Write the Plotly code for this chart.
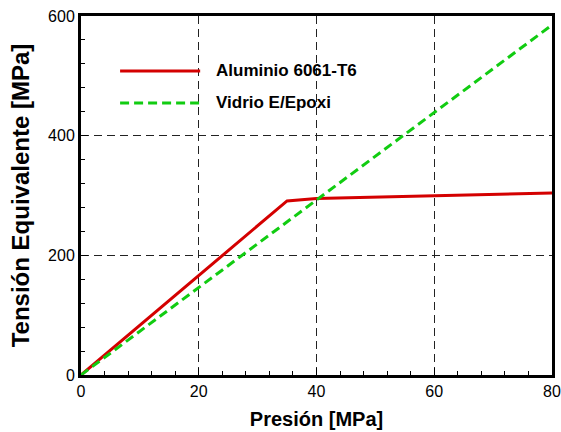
import plotly.graph_objects as go

# Data
presion_al = [0, 35, 40, 60, 80]
tension_al = [0, 291, 295, 300, 304]
presion_vid = [0, 80]
tension_vid = [0, 585]
x_ticks = [0, 20, 40, 60, 80]
y_ticks = [0, 200, 400, 600]
series_names = ["Aluminio 6061-T6", "Vidrio E/Epoxi"]

FONT = "Liberation Sans, Arial, sans-serif"
GREEN_DASH = "9px,5px"

fig = go.Figure()
fig.add_trace(go.Scatter(x=presion_al, y=tension_al, mode="lines", name=series_names[0],
                         line=dict(color="#d40000", width=3), showlegend=False))
fig.add_trace(go.Scatter(x=presion_vid, y=tension_vid, mode="lines", name=series_names[1],
                         line=dict(color="#11cc11", width=3, dash=GREEN_DASH), showlegend=False))

# manual legend
leg_y = [0.847, 0.758]
colors = ["#d40000", "#11cc11"]
dashes = ["solid", GREEN_DASH]
for i in range(2):
    fig.add_shape(type="line", xref="paper", yref="paper", x0=0.083, x1=0.253,
                  y0=leg_y[i], y1=leg_y[i], line=dict(color=colors[i], width=3, dash=dashes[i]))
    fig.add_annotation(xref="paper", yref="paper", x=0.283, y=leg_y[i], text="<b>%s</b>" % series_names[i],
                       showarrow=False, xanchor="left", yanchor="middle",
                       font=dict(family=FONT, size=17, color="black"))

axis_common = dict(showline=True, linecolor="black", linewidth=3, mirror=True,
                   ticks="inside", ticklen=7, tickcolor="black", tickwidth=1,
                   showgrid=True, gridcolor="#222222", gridwidth=1.3, griddash="8px,5px",
                   zeroline=False, automargin=False, layer="above traces",
                   tickfont=dict(family=FONT, size=16, color="black"))

fig.update_xaxes(range=[0, 80], tickvals=x_ticks, **axis_common,
                 minor=dict(dtick=4, ticks="inside", ticklen=4, tickcolor="black", showgrid=False),
                 title=dict(text="<b>Presión [MPa]</b>", font=dict(family=FONT, size=20, color="black"), standoff=13))
fig.update_yaxes(range=[0, 600], tickvals=y_ticks, **axis_common,
                 minor=dict(dtick=40, ticks="inside", ticklen=4, tickcolor="black", showgrid=False),
                 title=dict(text="<b>Tensión Equivalente [MPa]</b>", font=dict(family=FONT, size=24, color="black"), standoff=12))

fig.update_layout(width=561, height=432, margin=dict(l=81, r=9, t=16, b=57),
                  plot_bgcolor="white", paper_bgcolor="white", showlegend=False)

fig.write_html("out.html", config={"displayModeBar": False},
               post_script="document.body.style.margin='0';document.body.style.overflow='hidden';")
